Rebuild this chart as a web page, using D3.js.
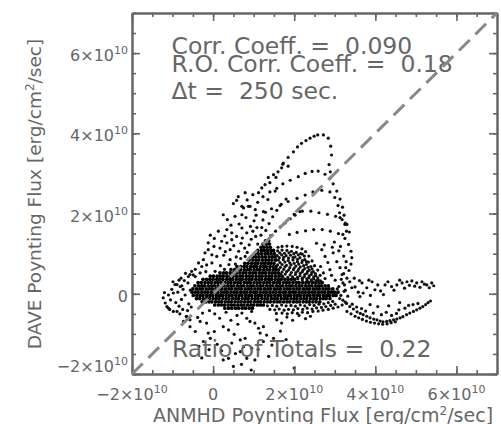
<!DOCTYPE html>
<html>
<head>
<meta charset="utf-8">
<script src="https://cdn.jsdelivr.net/npm/d3@7"></script>
<style>
  body { margin: 0; background: #fff; }
  text { font-family: "DejaVu Sans", sans-serif; fill: #666; white-space: pre; }
</style>
</head>
<body>
<div id="chart"></div>
<script>
// every flux value below is in units of 1e9 erg/cm^2/sec
const UNIT = 1e9;

const axisDomain = [-2e10, 7e10];
const majorTicks = [-2e10, 0, 2e10, 4e10, 6e10];
const refLine = [-2e10, 7e10];   // DAVE = ANMHD
const notes = ["Corr. Coeff. =  0.090", "R.O. Corr. Coeff. =  0.18", "\u0394t =  250 sec."];
const ratioNote = "Ratio of Totals =  0.22";

// dense core, one row per DAVE value: [y, x, x, ...]
const coreRows = [
  [13.2, 12.9, 13.7],
  [12.4, 12.3, 13.1, 13.9],
  [11.6, 11.8, 12.5, 13.3, 14.1],
  [10.8, 11.0, 11.9, 12.6, 13.4, 14.2, 14.9],
  [10.0, 10.3, 11.1, 11.9, 12.8, 13.5, 14.3, 15.1],
  [9.2, 9.7, 10.5, 11.3, 12.1, 12.9, 13.8, 14.6, 15.3],
  [8.4, 8.9, 9.8, 10.6, 11.3, 12.2, 13.0, 13.7, 14.5, 15.4],
  [7.6, 7.8, 8.6, 9.5, 10.3, 11.0, 11.9, 12.7, 13.5, 14.2, 15.0],
  [6.8, 5.9, 6.8, 7.6, 8.3, 9.2, 10.0, 10.7, 11.6, 12.4, 13.1, 14.0, 14.8, 15.5],
  [6.0, 4.4, 5.3, 6.1, 6.8, 7.7, 8.5, 9.2, 10.1, 10.9, 11.6, 12.5, 13.3, 14.0, 14.9, 15.6],
  [5.2, 1.7, 2.6, 3.3, 4.2, 5.0, 5.7, 6.6, 7.4, 8.1, 9.0, 9.8, 10.5, 11.4, 12.2, 12.9, 13.8, 14.6, 15.3, 16.1],
  [4.4, -0.7, 0.1, 1.0, 1.8, 2.5, 3.4, 4.2, 4.9, 5.8, 6.6, 7.3, 8.2, 9.0, 9.7, 10.6, 11.4, 12.1, 13.0, 13.8, 14.5, 15.4, 16.2, 17.0],
  [3.6, -2.5, -1.6, -0.8, 0.0, 0.9, 1.6, 2.4, 3.3, 4.1, 4.8, 5.7, 6.5, 7.2, 8.1, 8.9, 9.6, 10.5, 11.3, 12.0, 12.9, 13.7, 14.4, 15.3, 16.1, 16.8, 17.7, 18.5, 19.3, 20.1],
  [2.8, -3.7, -2.9, -2.0, -1.2, -0.4, 0.5, 1.2, 2.0, 2.9, 3.7, 4.4, 5.3, 6.1, 6.8, 7.7, 8.5, 9.2, 10.1, 10.9, 11.6, 12.5, 13.3, 14.0, 14.9, 15.7, 16.4, 17.3, 18.1, 18.8, 19.7, 20.5, 21.2, 22.1, 22.9, 23.6, 24.5, 25.3, 26.1, 26.9],
  [2.0, -4.5, -3.6, -2.8, -2.1, -1.2, -0.4, 0.3, 1.2, 2.0, 2.7, 3.6, 4.4, 5.1, 6.0, 6.8, 7.5, 8.4, 9.2, 9.9, 10.8, 11.6, 12.3, 13.2, 14.0, 14.7, 15.6, 16.4, 17.1, 18.0, 18.8, 19.5, 20.4, 21.2, 21.9, 22.8, 23.6, 24.3, 25.2, 26.0, 26.7, 27.6, 28.4],
  [1.2, -5.0, -4.1, -3.3, -2.6, -1.7, -0.9, -0.2, 0.7, 1.5, 2.2, 3.1, 3.9, 4.6, 5.5, 6.3, 7.0, 7.9, 8.7, 9.4, 10.3, 11.1, 11.8, 12.7, 13.5, 14.2, 15.1, 15.9, 16.6, 17.5, 18.3, 19.0, 19.9, 20.7, 21.4, 22.3, 23.1, 23.8, 24.7, 25.5, 26.2, 27.1, 27.9, 28.6, 29.5],
  [0.4, -5.2, -4.4, -3.7, -2.8, -2.0, -1.3, -0.4, 0.4, 1.1, 2.0, 2.8, 3.5, 4.4, 5.2, 5.9, 6.8, 7.6, 8.3, 9.2, 10.0, 10.7, 11.6, 12.4, 13.1, 14.0, 14.8, 15.5, 16.4, 17.2, 17.9, 18.8, 19.6, 20.3, 21.2, 22.0, 22.7, 23.6, 24.4, 25.1, 26.0, 26.8, 27.5, 28.4, 29.2, 29.9, 30.8],
  [-0.4, -4.9, -4.0, -3.2, -2.5, -1.6, -0.8, -0.1, 0.8, 1.6, 2.3, 3.2, 4.0, 4.7, 5.6, 6.4, 7.1, 8.0, 8.8, 9.5, 10.4, 11.2, 11.9, 12.8, 13.6, 14.3, 15.2, 16.0, 16.7, 17.6, 18.4, 19.1, 20.0, 20.8, 21.5, 22.4, 23.2, 23.9, 24.8, 25.6, 26.3, 27.2, 28.0, 28.7, 29.6, 30.3],
  [-1.2, -4.1, -3.3, -2.4, -1.6, -0.9, 0.0, 0.8, 1.5, 2.4, 3.2, 3.9, 4.8, 5.6, 6.3, 7.2, 8.0, 8.7, 9.6, 10.4, 11.1, 12.0, 12.8, 13.5, 14.4, 15.2, 15.9, 16.8, 17.6, 18.3, 19.2, 20.0, 20.7, 21.6, 22.4, 23.1, 24.0, 24.8, 25.5, 26.4, 27.2, 27.9, 28.8],
  [-2.0, -2.7, -1.8, -1.0, -0.3, 0.6, 1.4, 2.1, 3.0, 3.8, 4.5, 5.4, 6.2, 6.9, 7.8, 8.6, 9.3, 10.2, 11.0, 11.7, 12.6, 13.4, 14.1, 15.0, 15.8, 16.5, 17.4, 18.2, 18.9, 19.8, 20.6, 21.3, 22.2, 23.0, 23.7, 24.6, 25.4, 26.3],
  [-2.8, 0.4, 1.3, 2.1, 2.8, 3.7, 4.5, 5.2, 6.1, 6.9, 7.6, 8.5, 9.3, 10.0, 10.9, 11.7, 12.4],
  [-3.6, 2.9, 3.8, 4.6, 5.5, 6.3, 7.2, 8.0, 8.9, 9.7]
];

// looser cloud above the band ("bell")
const bell = [
  [15.9,10.7],[17.0,10.9],[18.2,10.8],[19.3,10.6],[20.5,10.3],[21.6,10.0],[22.5,9.4],
  [15.8,9.5],[16.9,9.7],[18.0,9.5],[19.1,9.6],[20.2,9.2],[21.4,9.0],[22.6,8.5],[23.5,7.9],
  [16.1,8.4],[17.3,8.5],[18.5,8.3],[19.7,8.4],[20.8,8.0],[21.9,7.8],[23.0,7.3],[24.1,6.8],
  [15.9,7.2],[17.0,7.3],[18.1,7.1],[19.2,7.2],[20.4,6.9],[21.5,6.7],[22.6,6.3],[23.7,5.9],[24.7,5.5],
  [16.2,6.0],[17.4,6.1],[18.6,5.9],[19.8,6.0],[20.9,5.7],[22.0,5.5],[23.1,5.1],[24.2,4.8],[25.3,4.5],
  [16.6,4.9],[17.8,4.9],[19.0,4.7],[20.3,4.8],[21.4,4.5],[22.5,4.3],[23.6,4.0],[24.8,3.7],[25.9,3.5],
  [20.9,3.7],[22.0,3.5],[23.2,3.3],[24.3,3.1],[25.5,2.9],[26.7,2.8],
  [27.6,3.8],[26.4,4.6],[25.8,5.9],[25.0,7.0],[24.4,8.2],[23.6,9.4],[22.8,10.5],[21.9,11.2],[20.7,11.6],[19.5,11.8],[18.2,11.9],[17.0,11.8],[16.0,11.6],
  [16.4,10.2],[17.6,10.1],[18.7,10.2],[19.9,10.0],[21.0,9.7],[22.0,9.9],
  [16.3,9.0],[17.4,9.1],[18.6,8.9],[19.7,9.0],[20.8,8.6],[22.0,8.3],[23.0,8.0],
  [16.5,7.8],[17.7,7.9],[18.9,7.7],[20.0,7.6],[21.1,7.4],[22.3,7.0],[23.4,6.6],[24.4,6.2],
  [16.6,6.6],[17.7,6.7],[18.9,6.5],[20.0,6.4],[21.1,6.2],[22.2,5.9],[23.3,5.6],[24.3,5.3],[25.2,5.0],
  [17.0,5.4],[18.1,5.5],[19.3,5.3],[20.4,5.3],[21.5,5.1],[22.6,4.8],[23.7,4.5],[24.8,4.2],[25.8,4.0],
  [17.2,4.2],[18.4,4.1],[19.6,4.2],[20.8,4.1],[22.0,3.9],[23.1,3.7],[24.2,3.5],[25.4,3.3],[26.5,3.2]
];

const meshLow = [
  [13.4,-3.0],[14.6,-2.9],[15.7,-3.1],[16.9,-2.8],[18.0,-3.0],[19.2,-2.9],[20.3,-3.1],[21.5,-2.8],[22.6,-3.0],[23.8,-2.7],[24.9,-2.9],[26.1,-2.6],[27.3,-2.5],[28.4,-2.2],[29.5,-1.9],
  [14.0,-3.9],[15.2,-4.0],[16.3,-3.8],[17.5,-4.1],[18.6,-3.9],[19.8,-4.0],[20.9,-3.7],[22.1,-3.9],[23.2,-3.6],[24.4,-3.8],[25.5,-3.5],[26.7,-3.4],[27.8,-3.2],[29.0,-2.9],[30.1,-2.6],
  [15.6,-4.9],[17.0,-4.8],[18.3,-5.0],[19.5,-4.7],[20.8,-4.9],[22.0,-4.6],[23.3,-4.7],[24.6,-4.4],[25.9,-4.3],[27.1,-4.1],[28.4,-3.9],[29.6,-3.6],[30.8,-3.3],[31.8,-2.8],[32.6,-2.1]
];

const tailUp = [
  [31.0,1.8],[32.0,2.7],[32.6,0.9],[33.7,3.0],[34.2,1.5],[35.0,1.7],[35.8,0.4],[36.7,2.7],[37.0,0.2],[37.9,1.5],[38.4,3.4],[39.2,3.0],[39.9,1.0],[40.6,2.2],
  [41.3,0.7],[42.4,2.2],[43.1,3.0],[44.0,1.8],[44.6,0.9],[45.3,2.2],[46.0,3.4],[46.6,2.7],[47.2,1.4],[47.8,3.0],[48.4,2.1],[49.0,3.2],[49.7,1.9],[50.2,2.7],
  [51.0,1.6],[51.5,3.0],[52.1,2.4],[52.7,2.2],[53.3,1.5],[53.9,2.7],[54.4,2.0],[36.2,-0.7],[38.8,-0.4],[42.0,-0.2],[30.5,0.2],[33.2,-0.6],[31.6,3.6],[34.8,3.9],[36.1,3.3]
];

const tailLow = [
  [31.2,-1.2],[32.0,-1.6],[32.9,-2.4],[33.7,-3.2],[34.6,-3.8],[35.5,-4.5],[36.3,-4.9],[37.0,-5.2],[37.9,-5.6],[38.7,-6.0],[39.6,-6.3],[40.4,-6.5],[41.2,-6.8],[41.9,-7.0],
  [42.8,-6.9],[43.6,-6.7],[44.5,-6.5],[45.3,-6.3],[46.1,-6.0],[46.8,-5.7],[47.7,-5.2],[48.5,-4.8],[49.4,-4.4],[50.2,-4.0],[51.0,-3.6],[51.7,-3.2],[52.4,-2.7],[53.0,-2.2],[53.6,-1.8],
  [33.0,-4.4],[34.0,-5.0],[35.0,-5.6],[35.9,-6.0],[36.8,-6.4],[37.8,-6.8],[38.8,-7.1],[39.8,-7.3],[40.8,-7.5],[41.8,-7.6],[42.9,-7.5],[43.9,-7.2],[44.9,-7.0],
  [34.3,-2.6],[35.4,-3.3],[36.6,-3.7],[37.6,-4.3],[38.7,-2.7],[39.5,-4.8],[40.6,-3.2],[41.5,-5.2],[42.7,-4.6],[44.0,-5.4],[45.2,-4.9],[46.0,-2.2],[47.3,-3.6],
  [48.2,-2.9],[49.3,-2.7],[50.5,-2.4],[45.8,-4.0],[43.3,-3.0]
];

const rightSide = [
  [31.3,19.0],[32.5,17.3],[32.0,14.8],[29.6,10.2],[30.5,8.0],[31.3,6.5],[31.8,4.8],[26.8,11.0],[27.6,9.3],[28.3,7.8],[28.8,6.0],
  [29.2,4.6],[30.1,3.4],[27.2,5.2],[26.5,6.8],[29.9,12.9],[31.4,11.8],[33.0,3.9],[32.4,2.2],[30.6,1.2],[31.5,-0.4],[32.3,0.6]
];

// dotted tracks rising out of the core
const arcs = [
  [16.0,30.4],[17.2,32.3],[18.5,34.0],[19.8,35.4],[20.8,36.6],[21.8,37.5],[22.9,38.2],[23.9,38.8],[24.9,39.3],[25.8,39.6],[27.2,39.6],[28.4,38.8],[29.0,36.8],[29.2,34.6],[28.6,32.2],[28.9,30.4],
  [12.3,24.2],[14.0,25.4],[15.7,26.3],[17.2,27.4],[19.0,28.3],[21.0,29.2],[22.7,30.0],[24.4,30.5],[25.9,30.6],[27.6,29.8],[28.8,28.8],[29.6,27.4],[30.5,25.6],[31.3,23.6],[31.9,21.6],[32.3,19.6],[32.6,17.6],[32.9,15.6],
  [10.6,19.6],[12.4,20.5],[14.4,21.2],[16.5,22.0],[18.5,23.0],[20.7,23.8],[22.7,24.6],[24.6,25.4],[26.8,25.8],[28.8,25.4],[30.0,24.0],[30.8,22.0],[31.2,20.2],
  [20.0,19.8],[22.0,20.6],[24.1,20.6],[26.1,20.2],[28.2,19.8],[30.2,19.3],[31.8,18.5],[33.0,17.3],[33.6,15.4],
  [18.8,14.8],[20.7,15.3],[22.8,15.7],[24.8,16.0],[26.9,16.0],[28.9,15.6],[30.9,15.0],[32.5,13.8],[33.4,12.3],[34.0,10.6],[34.2,9.0],[34.0,7.4],[33.5,5.8],
  [25.5,12.6],[27.4,12.2],[29.4,11.6],[31.0,10.7],[32.2,9.4],[32.8,8.0],[32.7,6.5],[32.2,5.0],
  [14.2,14.5],[15.4,15.6],[16.6,16.7],[17.8,17.7],[19.0,18.7],[20.2,19.6],[21.4,20.5],
  [13.0,15.8],[13.8,17.5],[14.7,19.2],[15.7,20.8],[16.8,22.3],[18.0,23.6],
  [11.8,14.6],[12.0,16.5],[12.3,18.4],[12.9,20.3]
];

const hat = [
  [6.2,24.2],[7.9,25.2],[9.8,24.7],[7.1,21.8],[9.1,21.8],[11.2,25.2],[12.0,26.4],[12.8,27.2],[14.9,29.7],[15.5,29.0],[16.9,31.4],[17.3,32.6],
  [18.5,31.8],[14.0,27.7],[15.3,25.6],[11.0,22.8],[13.5,23.5],[5.0,22.5],[8.4,23.4],[10.4,21.0],[13.6,29.0]
];

const haloUp = [
  [5.8,23.3],[2.5,19.7],[3.5,18.5],[5.4,19.3],[7.1,19.7],[8.1,19.0],[7.5,21.4],[8.7,21.8],[1.3,15.6],[3.4,16.0],[4.6,15.2],[5.8,14.3],
  [8.3,15.2],[7.1,16.4],[-1.2,12.7],[2.1,13.1],[3.4,12.7],[4.6,13.5],[1.7,11.4],[4.2,11.0],[-1.2,11.0],[-0.3,9.7],[-2.4,8.5],[0.9,9.3],
  [2.6,9.6],[-2.8,6.8],[-1.6,7.2],[-0.3,7.7],[1.8,7.0],[4.2,8.5],[5.5,7.4],[6.8,8.8],[7.9,9.3],[-4.9,4.7],[-3.2,5.2],[-6.1,4.3],
  [0.5,5.6],[-1.8,5.5],[2.8,6.1],[3.9,7.3],[5.7,9.2],[6.3,10.6],[7.8,11.4],[8.9,12.2],[9.4,13.6],[10.5,14.3],[6.9,12.6],[5.1,12.0],
  [3.0,10.5],[0.2,11.8],[-2.0,10.2],[-3.6,7.7],[-4.4,6.1],[-5.3,5.6],[-6.8,5.1],[-7.9,3.9],[9.2,16.8],[10.1,18.2],[6.4,17.4],[4.4,17.1],
  [2.9,14.4],[0.3,13.8],[-0.7,14.6],[9.8,15.6],[10.8,16.5],[11.0,12.4],[8.4,10.3],[7.2,13.9]
];

const haloLeft = [
  [-11.8,-2.3],[-11.0,-3.6],[-9.8,0.2],[-9.4,2.3],[-8.1,1.8],[-7.4,1.1],[-5.7,4.8],[-4.4,4.3],[-8.9,-4.4],[-8.2,-5.0],[-7.5,-3.9],[-5.7,-6.5],
  [-6.6,-5.6],[-3.2,-6.9],[-11.0,-0.3],[-11.4,-3.2],[-9.8,-4.4],[-6.5,-5.7],[-7.3,-6.9],[-10.5,-1.5],[-12.3,-1.0],[-10.2,1.1],[-8.7,0.4],[-9.2,-2.2],
  [-7.8,-1.4],[-6.9,-0.3],[-6.2,2.7],[-7.1,3.3],[-6.0,-2.5],[-5.6,0.9],[-8.4,-3.1],[-10.7,-3.9],[-12.0,0.3],[-6.3,-4.2],[-5.4,-3.3],[-9.9,3.0],
  [-8.4,3.4],[-7.7,2.0],[-8.9,2.3]
];

const haloDown = [
  [-5.7,-8.2],[-4.4,-9.4],[-1.6,-7.3],[-1.2,-9.8],[-0.7,-11.1],[-2.4,-11.9],[2.5,-8.2],[3.8,-9.0],[5.2,-10.1],[6.7,-11.5],[4.6,-12.3],[7.5,-13.2],
  [9.5,-13.6],[8.3,-16.1],[3.8,-16.1],[2.5,-16.5],[6.7,-14.4],[9.1,-6.9],[7.1,-4.8],[8.3,-6.1],[9.5,-4.4],[10.3,-7.3],[11.2,-8.6],[12.4,-8.2],
  [11.6,-9.8],[13.2,-10.3],[12.4,-11.9],[14.9,-11.1],[14.5,-12.8],[15.7,-6.5],[16.9,-7.3],[10.3,-16.5],[7.9,-11.1],[18.2,-5.8],[19.6,-6.6],[21.2,-5.4],
  [22.8,-6.2],[24.0,-5.6],[20.0,-18.5],[0.4,-5.0],[-0.9,-4.2],[1.6,-6.1],[3.2,-4.6],[4.4,-6.6],[5.9,-5.4],[6.1,-7.6],[-2.6,-4.8],[-3.8,-5.9],
  [-1.0,-13.9],[1.0,-12.6],[0.3,-9.4],[5.5,-14.9],[7.0,-17.6],[11.1,-13.9],[13.7,-15.6],[16.6,-9.3],[18.0,-11.4],[5.0,-18.1],[9.4,-19.0],[2.1,-14.2],
  [-3.5,-13.1],[-2.8,-16.0]
];

const margin = {top: 13, left: 132},
      width = 365,
      height = 361;

const svg = d3.select("#chart")
              .append("svg")
              .attr("width", 501)
              .attr("height", 424);

const g = svg.append("g")
             .attr("transform", "translate(" + margin.left + "," + margin.top + ")");

const x = d3.scaleLinear().domain(axisDomain).range([0, width]);
const y = d3.scaleLinear().domain(axisDomain).range([height, 0]);

const corePoints = [];
coreRows.forEach(r => r.slice(1).forEach(v => corePoints.push([v, r[0]])));
const loosePoints = [];
[bell, meshLow, tailUp, tailLow, rightSide, arcs, hat, haloUp, haloLeft, haloDown]
  .forEach(s => s.forEach(p => loosePoints.push(p)));

g.selectAll(".core")
 .data(corePoints)
 .enter()
 .append("circle")
 .attr("class", "core")
 .attr("cx", d => x(d[0] * UNIT))
 .attr("cy", d => y(d[1] * UNIT))
 .attr("r", 1.85)
 .attr("fill", "#000");

g.selectAll(".pt")
 .data(loosePoints)
 .enter()
 .append("circle")
 .attr("class", "pt")
 .attr("cx", d => x(d[0] * UNIT))
 .attr("cy", d => y(d[1] * UNIT))
 .attr("r", 1.6)
 .attr("fill", "#111");

// box with inward ticks on all four sides
const minorTicks = x.ticks(18);
const axes = [
  [d3.axisBottom(x), "translate(0," + height + ")"],
  [d3.axisTop(x), "translate(0,0)"],
  [d3.axisLeft(y), "translate(0,0)"],
  [d3.axisRight(y), "translate(" + width + ",0)"]
];
axes.forEach(([ax, tr]) => {
  g.append("g").attr("transform", tr)
   .call(ax.tickValues(minorTicks).tickSize(-4).tickSizeOuter(0).tickFormat(() => ""));
  g.append("g").attr("transform", tr)
   .call(ax.tickValues(majorTicks).tickSize(-8).tickSizeOuter(0).tickFormat(() => ""));
});
g.selectAll(".domain").attr("stroke", "#666").attr("stroke-width", 2);
g.selectAll(".tick line").attr("stroke", "#666").attr("stroke-width", 1.6);

function tickLabel(sel, v) {
  if (v === 0) { sel.text("0"); return; }
  sel.append("tspan").text((v < 0 ? "\u2212" : "") + Math.abs(v / 1e10) + "\u00d710");
  sel.append("tspan").attr("font-size", 11).attr("dy", -7).text("10");
}

g.selectAll(".xlab")
 .data(majorTicks)
 .enter()
 .append("text")
 .attr("x", d => x(d))
 .attr("y", height + 26)
 .attr("text-anchor", "middle")
 .attr("font-size", 16)
 .each(function(d) { tickLabel(d3.select(this), d); });

g.selectAll(".ylab")
 .data(majorTicks)
 .enter()
 .append("text")
 .attr("x", -4)
 .attr("y", d => y(d) + (d === axisDomain[0] ? -2 : 8))
 .attr("text-anchor", "end")
 .attr("font-size", 16)
 .each(function(d) { tickLabel(d3.select(this), d); });

// axis titles
const yTitle = svg.append("text")
   .attr("transform", "translate(41,194) rotate(-90)")
   .attr("text-anchor", "middle")
   .attr("font-size", 18.5);
yTitle.append("tspan").text("DAVE Poynting Flux [erg/cm");
yTitle.append("tspan").attr("font-size", 12).attr("dy", -7).text("2");
yTitle.append("tspan").attr("dy", 7).text("/sec]");

const xTitle = svg.append("text")
   .attr("x", 323)
   .attr("y", 422)
   .attr("text-anchor", "middle")
   .attr("font-size", 19);
xTitle.append("tspan").text("ANMHD Poynting Flux [erg/cm");
xTitle.append("tspan").attr("font-size", 12).attr("dy", -7).text("2");
xTitle.append("tspan").attr("dy", 7).text("/sec]");

// statistics
const noteY = [41, 59, 85.5];
g.selectAll(".note")
 .data(notes)
 .enter()
 .append("text")
 .attr("x", 39.5)
 .attr("y", (d, i) => noteY[i])
 .attr("font-size", 23.5)
 .text(d => d);

g.append("text")
 .attr("x", 40)
 .attr("y", 344)
 .attr("font-size", 23.5)
 .text(ratioNote);

g.append("line")
 .attr("x1", x(refLine[0]))
 .attr("y1", y(refLine[0]))
 .attr("x2", x(refLine[1]))
 .attr("y2", y(refLine[1]))
 .attr("stroke", "#888")
 .attr("stroke-width", 3)
 .attr("stroke-dasharray", "15,8");
</script>
</body>
</html>
